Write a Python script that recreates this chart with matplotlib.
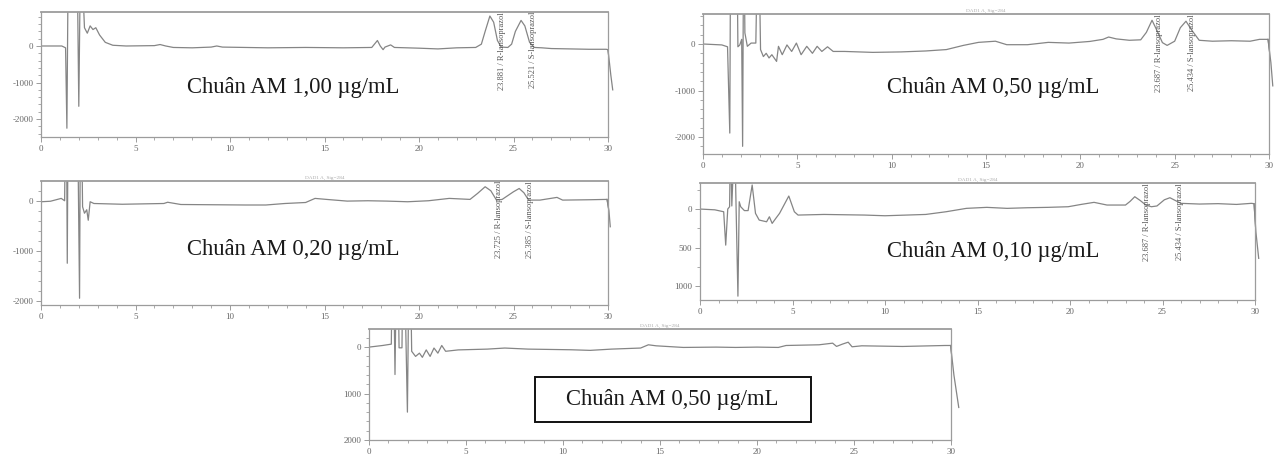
import matplotlib
matplotlib.use('Agg')
import matplotlib.pyplot as plt
from matplotlib.patches import Rectangle
from matplotlib.ticker import MultipleLocator

plt.rcParams['font.family'] = ['Liberation Serif', 'DejaVu Serif']

# retention time (min) / signal (mAU)
p1_time = [0, 1.1, 1.3, 1.37, 1.45, 1.9, 2.0, 2.1, 2.3, 2.45, 2.6, 2.75, 2.9, 3.1, 3.4, 3.8,
           4.5, 6.0, 6.3, 6.6, 7.0, 8.0, 9.0, 9.3, 9.6, 12.0, 14.0, 16.0, 17.5, 17.8, 17.95,
           18.1, 18.2, 18.5, 18.7, 20.0, 21.0, 22.0, 23.0, 23.3, 23.5, 23.75, 23.95, 24.15,
           24.35, 24.7, 24.9, 25.1, 25.4, 25.6, 25.85, 26.1, 26.5, 27.0, 28.0, 29.0, 29.9,
           30.0, 30.15, 30.25]
p1_signal = [0, 0, -50, -2250, 3000, 3000, -1650, 3000, 500, 350, 550, 450, 500, 300, 100, 20,
             0, 10, 40, 0, -40, -50, -30, 0, -30, -50, -40, -50, -40, 150, 0,
             -100, -30, 30, -40, -60, -80, -50, -40, 50, 400, 820, 650, 150,
             -30, -40, 50, 400, 700, 550, 100, -40, -50, -70, -80, -90, -90,
             -100, -800, -1200]

p2_time = [0, 1.0, 1.3, 1.42, 1.47, 1.78, 1.85, 1.95, 2.05, 2.1, 2.16, 2.22, 2.35, 2.55,
           2.8, 2.93, 3.05, 3.2, 3.35, 3.5, 3.65, 3.9, 4.0, 4.2, 4.45, 4.7, 4.95, 5.2, 5.5,
           5.8, 6.05, 6.3, 6.6, 6.9, 7.5, 9.0, 10.5, 11.8, 12.9, 13.8, 14.6, 15.5, 16.1,
           17.2, 18.3, 19.4, 20.5, 21.2, 21.5, 21.9, 22.6, 23.2, 23.5, 23.8, 24.05, 24.35,
           24.6, 25.0, 25.3, 25.6, 25.9, 26.3, 27.0, 28.0, 29.0, 29.5, 29.95, 30.1, 30.2]
p2_signal = [0, -20, -60, -1915, 3000, 3000, -60, -20, 100, -2200, 3000, 240, -50, 20,
             20, 3000, -120, -270, -200, -300, -230, -374, -50, -230, -20, -160, 20, -230, -50,
             -200, -50, -160, -60, -160, -160, -180, -170, -150, -120, -30, 35, 60, -15,
             -15, 35, 20, 55, 100, 150, 110, 80, 90, 250, 510, 300, 30,
             -30, 60, 350, 490, 300, 80, 60, 70, 60, 100, 100, -400, -900]

p3_time = [0, 0.5, 1.07, 1.25, 1.33, 1.39, 1.45, 1.9, 2.04, 2.1, 2.2, 2.3, 2.42, 2.5, 2.6,
           2.8, 4.3, 6.5, 6.7, 7.4, 10.8, 11.9, 12.9, 14.0, 14.5, 15.1, 16.2, 17.3, 18.3,
           19.4, 20.5, 21.6, 22.7, 23.1, 23.5, 23.8, 24.1, 24.4, 25.0, 25.3, 25.55, 25.8,
           26.4, 27.3, 27.6, 29.0, 29.95, 30.05, 30.12]
p3_signal = [-20, -10, 47, 0, 3000, -1250, 3000, 3000, -1950, 3000, -120, -250, -180, -390, -20,
             -55, -70, -55, -30, -75, -85, -85, -55, -35, 47, 27, -7, 0, -7,
             -20, 0, 47, 27, 147, 280, 200, 13, 27, 180, 245, 160, 13,
             13, 67, 13, 20, 27, -200, -520]

p4_time = [0, 0.8, 1.28, 1.39, 1.5, 1.6, 1.65, 1.72, 1.87, 1.95, 2.05, 2.12, 2.2, 2.4, 2.6,
           2.82, 3.0, 3.2, 3.6, 3.75, 3.9, 4.1, 4.3, 4.8, 5.1, 5.3, 6.7, 8.9, 10.0, 12.2,
           13.3, 14.4, 15.5, 16.6, 17.7, 18.8, 19.9, 20.6, 21.3, 22.0, 23.0, 23.25, 23.5,
           23.8, 24.1, 24.4, 24.7, 25.1, 25.4, 25.7, 26.0, 27.0, 28.0, 29.0, 29.8, 29.95,
           30.05, 30.2]
p4_signal = [0, -10, -35, -468, 0, 30, 1000, 40, 1000, 30, -1130, 95, 30, -20, -20,
             312, -56, -143, -165, -100, -186, -120, -56, 169, -35, -78, -70, -78, -87, -70,
             -35, 9, 22, 9, 17, 22, 30, 60, 87, 52, 52, 100, 160,
             110, 52, 30, 40, 120, 147, 110, 74, 65, 70, 60, 74, 70,
             -300, -640]

p5_time = [0, 0.7, 1.15, 1.23, 1.34, 1.45, 1.55, 1.7, 1.77, 1.98, 2.09, 2.2, 2.4, 2.6, 2.75,
           2.95, 3.15, 3.35, 3.55, 3.75, 3.95, 4.6, 6.1, 7.0, 8.2, 10.4, 11.4, 12.5, 14.0,
           14.4, 14.8, 16.2, 17.9, 18.9, 20.0, 21.1, 21.5, 23.2, 23.9, 24.1, 24.4, 24.7,
           24.9, 25.4, 27.5, 29.7, 29.98, 30.15, 30.4]
p5_signal = [0, 35, 64, 3000, -590, 3000, -15, -15, 3000, -1400, 3000, -90, -200, -130, -220,
             -60, -200, -20, -130, 35, -90, -60, -43, -20, -43, -57, -70, -43, -20,
             50, 28, -7, 0, -7, 0, -7, 35, 50, 85, 15, 64, 106,
             7, 28, 14, 35, 35, -600, -1300]

titles = ['Chuân AM 1,00 µg/mL', 'Chuân AM 0,50 µg/mL', 'Chuân AM 0,20 µg/mL',
          'Chuân AM 0,10 µg/mL', 'Chuân AM 0,50 µg/mL']
peak_rt = [[23.881, 25.521], [23.687, 25.434], [23.725, 25.385], [23.687, 25.434], []]
peak_names = ['R-lansoprazol', 'S-lansoprazol']
signal_titles = ['', 'DAD1 A, Sig=284', 'DAD1 A, Sig=284', 'DAD1 A, Sig=284', 'DAD1 A, Sig=284']
x_ticks = [0, 5, 10, 15, 20, 25, 30]
y_ticks = [[0, -1000, -2000], [0, -1000, -2000], [0, -1000, -2000], [0, -500, -1000],
           [0, -1000, -2000]]
y_ticklabels = [['0', '-1000', '-2000'], ['0', '-1000', '-2000'], ['0', '-1000', '-2000'],
                ['0', '500', '1000'], ['0', '1000', '2000']]

traces = [(p1_time, p1_signal), (p2_time, p2_signal), (p3_time, p3_signal),
          (p4_time, p4_signal), (p5_time, p5_signal)]

# layout in pixels: left, right, top, bottom of each plot box
W, H = 1278, 458
boxes = [(41, 608, 12, 137), (703, 1269, 14, 154), (41, 608, 181, 305),
         (700, 1255, 183, 300), (369, 951, 329, 440)]
ylims = [(-2490, 930), (-2365, 645), (-2085, 395), (-1180, 338), (-1970, 390)]
text_xy = [(293, 88), (993, 88), (293, 250), (993, 252), (672, 399)]

LINE = '#858585'
FRAME = '#9c9c9c'

fig = plt.figure(figsize=(W / 100, H / 100), dpi=100)

for i, (t, s) in enumerate(traces):
    l, r, top, b = boxes[i]
    ax = fig.add_axes([l / W, 1 - b / H, (r - l) / W, (b - top) / H])
    ax.plot(t, s, color=LINE, lw=0.9)
    # tail drop after the run end sits just outside the frame
    ax.plot(t[-3:], s[-3:], color=LINE, lw=0.9, clip_on=False)
    ax.set_xlim(0, 30)
    ax.set_ylim(*ylims[i])
    ax.set_xticks(x_ticks)
    ax.set_xticklabels([str(v) for v in x_ticks])
    ax.xaxis.set_minor_locator(MultipleLocator(1))
    ax.set_yticks(y_ticks[i])
    ax.set_yticklabels(y_ticklabels[i])
    ax.yaxis.set_minor_locator(MultipleLocator(250 if i == 3 else 200))
    for sp in ax.spines.values():
        sp.set_color(FRAME)
        sp.set_linewidth(0.9)
    ax.spines['top'].set_linewidth(1.3)
    ax.tick_params(which='major', length=3.5, width=0.7, color=FRAME, labelsize=6.5,
                   labelcolor='#666666', pad=2)
    ax.tick_params(which='minor', length=2, width=0.6, color=FRAME)

    y_top = ylims[i][1]
    for rt, name in zip(peak_rt[i], peak_names):
        ax.text(rt + 0.5, y_top, f'{rt:.3f} / {name}', rotation=90, ha='center',
                va='top', fontsize=6, color='#555555')

    if signal_titles[i]:
        ax.text(0.5, 1.01, signal_titles[i], transform=ax.transAxes, ha='center',
                va='bottom', fontsize=3.8, color='#aaaaaa')

    tx, ty = text_xy[i]
    fig.text(tx / W, 1 - ty / H, titles[i], ha='center', va='center', fontsize=16.3,
             color='#1a1a1a')

# frame around the last label
fig.add_artist(Rectangle((535 / W, 1 - 422 / H), 276 / W, 45 / H, transform=fig.transFigure,
                         fill=False, edgecolor='#111111', lw=1.4))

fig.savefig('out.png', dpi=100)
